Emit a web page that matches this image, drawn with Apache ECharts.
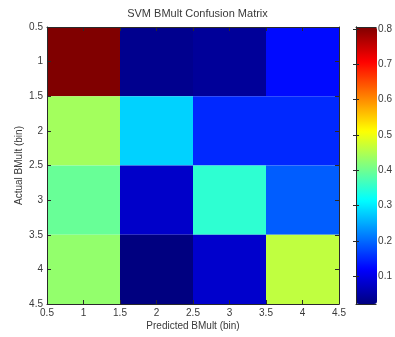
<!DOCTYPE html>
<html>
  <head>
    <meta charset="utf-8" />
    <title>SVM BMult Confusion Matrix</title>
    <script src="https://cdn.jsdelivr.net/npm/echarts@6/dist/echarts.min.js"></script>
    <style>
      * {
        margin: 0;
        padding: 0;
        box-sizing: border-box;
      }
    </style>
  </head>
  <body>
    <div id="main" style="width: 395px; height: 337px"></div>
    <script type="text/javascript">
      var myChart = echarts.init(document.getElementById("main"));

      // bins (actual = rows, predicted = columns)
      const predictedBins = [1, 2, 3, 4];
      const actualBins = [1, 2, 3, 4];
      // confusion matrix, one row per actual bin
      const confusion = [
        [0.805, 0.032, 0.04, 0.127],
        [0.44, 0.28, 0.15, 0.15],
        [0.395, 0.077, 0.35, 0.19],
        [0.428, 0.021, 0.08, 0.462],
      ];
      const axisTicks = [0.5, 1, 1.5, 2, 2.5, 3, 3.5, 4, 4.5];
      const colorbarTicks = [0.1, 0.2, 0.3, 0.4, 0.5, 0.6, 0.7, 0.8];
      const colorMin = 0.021;
      const colorMax = 0.805;

      // jet colormap stops
      const jet = [
        "#000080", "#0000ff", "#0080ff", "#00ffff", "#80ff80",
        "#ffff00", "#ff8000", "#ff0000", "#800000",
      ];

      const cells = [];
      actualBins.forEach((a, i) => {
        predictedBins.forEach((p, j) => {
          cells.push([p, a, confusion[i][j]]);
        });
      });

      const font = "Liberation Sans, Arial, sans-serif";
      const textColor = "#3a3a3a";
      const lineColor = "#2a2a2a";

      function boxAxis(extra) {
        return Object.assign(
          {
            type: "value",
            min: 0.5,
            max: 4.5,
            interval: 0.5,
            z: 5,
            splitLine: { show: false },
            axisLine: { show: true, lineStyle: { color: lineColor, width: 1 } },
            axisTick: { show: true, inside: true, length: 4, lineStyle: { color: lineColor } },
            axisLabel: { show: false },
          },
          extra
        );
      }

      var option = {
        backgroundColor: "#fff",
        animation: false,
        title: {
          text: "SVM BMult Confusion Matrix",
          left: "center",
          top: 8,
          padding: 0,
          textStyle: { fontSize: 11, fontWeight: "normal", color: textColor, fontFamily: font },
        },
        grid: [
          { left: 47, top: 27, width: 292, height: 277 },
          { left: 356, top: 27, width: 21, height: 277 },
        ],
        xAxis: [
          boxAxis({
            gridIndex: 0,
            position: "bottom",
            name: "Predicted BMult (bin)",
            nameLocation: "middle",
            nameGap: 17,
            nameMoveOverlap: false,
            nameTextStyle: { fontSize: 10, color: textColor, fontFamily: font },
            axisLabel: {
              show: true,
              margin: 4,
              fontSize: 10,
              color: textColor,
              fontFamily: font,
              showMinLabel: true,
              showMaxLabel: true,
            },
          }),
          boxAxis({ gridIndex: 0, position: "top" }),
          {
            type: "value",
            gridIndex: 1,
            position: "bottom",
            min: 0,
            max: 1,
            z: 5,
            splitLine: { show: false },
            axisLine: { show: true, lineStyle: { color: lineColor } },
            axisTick: { show: false },
            axisLabel: { show: false },
          },
          {
            type: "value",
            gridIndex: 1,
            position: "top",
            min: 0,
            max: 1,
            z: 5,
            splitLine: { show: false },
            axisLine: { show: true, lineStyle: { color: lineColor } },
            axisTick: { show: false },
            axisLabel: { show: false },
          },
        ],
        yAxis: [
          boxAxis({
            gridIndex: 0,
            position: "left",
            inverse: true,
            name: "Actual BMult (bin)",
            nameLocation: "middle",
            nameGap: 23,
            nameMoveOverlap: false,
            nameTextStyle: { fontSize: 10, color: textColor, fontFamily: font },
            axisLabel: {
              show: true,
              margin: 4,
              fontSize: 10,
              color: textColor,
              fontFamily: font,
              showMinLabel: true,
              showMaxLabel: true,
            },
          }),
          boxAxis({ gridIndex: 0, position: "right", inverse: true }),
          {
            type: "value",
            gridIndex: 1,
            position: "right",
            min: colorMin,
            max: colorMax,
            z: 5,
            splitLine: { show: false },
            axisLine: { show: true, lineStyle: { color: lineColor } },
            axisTick: {
              show: true,
              inside: true,
              length: 3,
              customValues: colorbarTicks,
              lineStyle: { color: lineColor },
            },
            axisLabel: {
              show: true,
              margin: 2,
              fontSize: 10,
              color: textColor,
              fontFamily: font,
              customValues: colorbarTicks,
            },
          },
          {
            type: "value",
            gridIndex: 1,
            position: "left",
            min: colorMin,
            max: colorMax,
            z: 5,
            splitLine: { show: false },
            axisLine: { show: true, lineStyle: { color: lineColor } },
            axisTick: {
              show: true,
              inside: true,
              length: 3,
              customValues: colorbarTicks,
              lineStyle: { color: lineColor },
            },
            axisLabel: { show: false },
          },
        ],
        visualMap: {
          type: "continuous",
          min: colorMin,
          max: colorMax,
          seriesIndex: 0,
          dimension: 2,
          calculable: false,
          hoverLink: false,
          text: null,
          padding: 0,
          left: 356,
          top: 27,
          itemWidth: 21,
          itemHeight: 277,
          inRange: { color: jet },
        },
        series: [
          {
            type: "custom",
            xAxisIndex: 0,
            yAxisIndex: 0,
            renderItem: function (params, api) {
              const x = api.value(0);
              const y = api.value(1);
              const p0 = api.coord([x - 0.5, y - 0.5]);
              const p1 = api.coord([x + 0.5, y + 0.5]);
              return {
                type: "rect",
                shape: {
                  x: Math.min(p0[0], p1[0]),
                  y: Math.min(p0[1], p1[1]),
                  width: Math.abs(p1[0] - p0[0]),
                  height: Math.abs(p1[1] - p0[1]),
                },
                style: { fill: api.visual("color") },
              };
            },
            encode: { x: 0, y: 1 },
            data: cells,
          },
        ],
      };

      myChart.setOption(option);
    </script>
  </body>
</html>
